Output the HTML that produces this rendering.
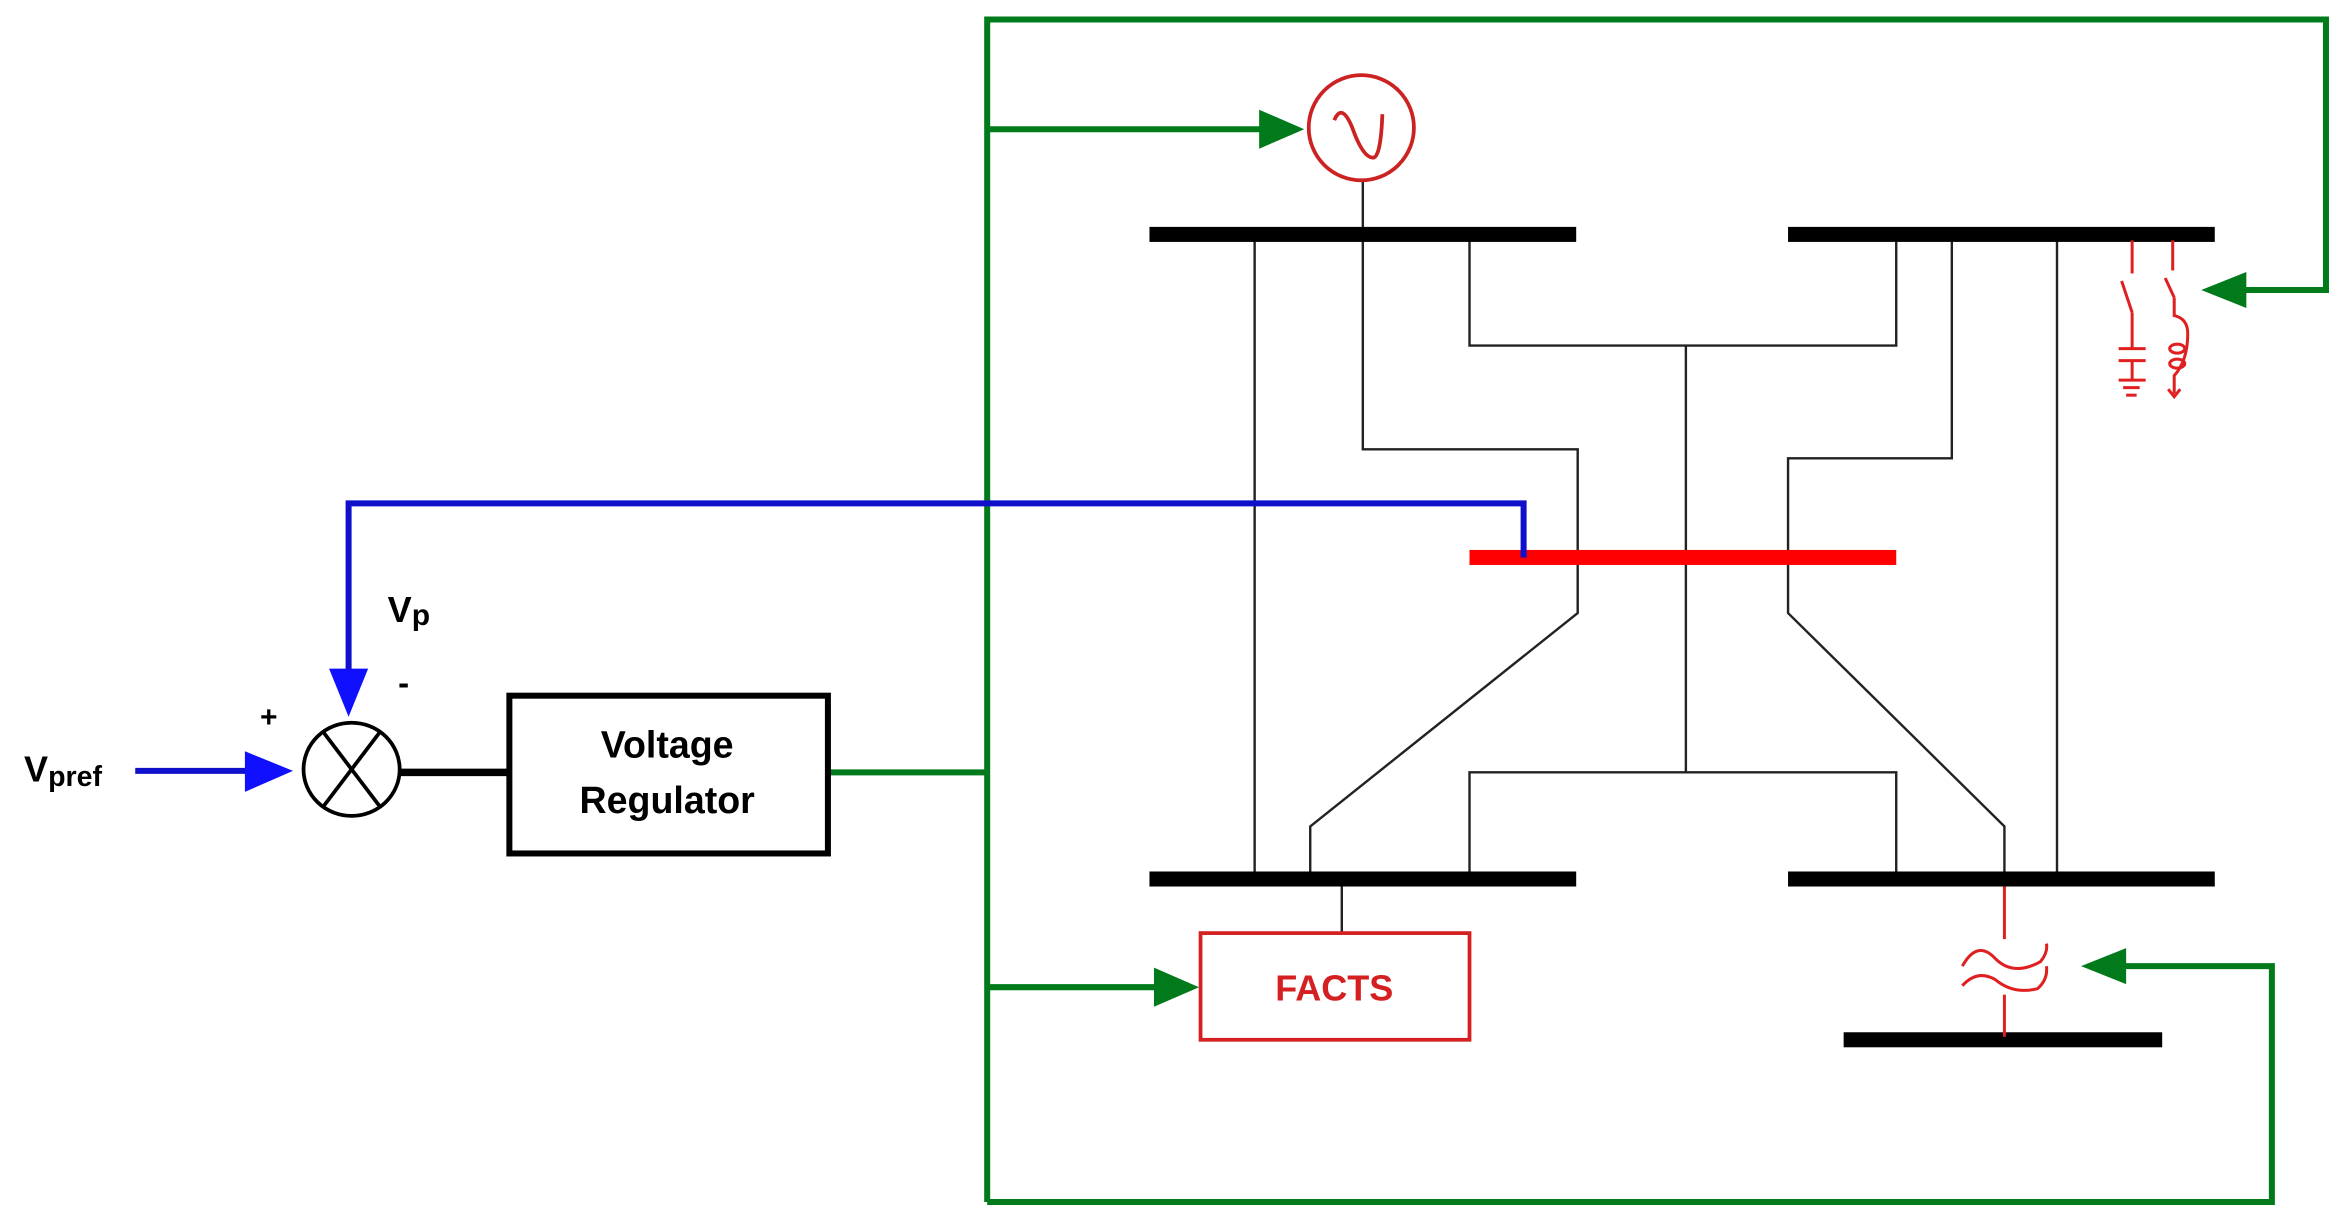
<!DOCTYPE html>
<html><head><meta charset="utf-8"><style>
html,body{margin:0;padding:0;background:#fff;}
svg{display:block;}
text{font-family:"Liberation Sans",sans-serif;font-weight:bold;}
</style></head><body>
<svg width="2344" height="1227" viewBox="0 0 1560 816.6" xmlns="http://www.w3.org/2000/svg">
<rect width="1560" height="817" fill="#fff"/>
<g stroke="#007a1a" stroke-width="4" fill="none">
<polyline points="657,800 657,13 1548,13 1548,193 1480,193"/>
<polyline points="657,800 1512,800 1512,643 1400,643"/>
<line x1="657" y1="86" x2="845" y2="86"/>
<line x1="552" y1="514" x2="657" y2="514"/>
<line x1="657" y1="657" x2="775" y2="657"/>
</g>
<g fill="#007a1a">
<polygon points="868,86 838,73 838,99"/>
<polygon points="1465,193 1495,181 1495,205"/>
<polygon points="1385,643 1415,631 1415,655"/>
<polygon points="798,657 768,644 768,670"/>
</g>
<g stroke="#222" stroke-width="1.6" fill="none">
<line x1="835" y1="156" x2="835" y2="585"/>
<polyline points="907,120 907,299 1050,299 1050,408 872,550 872,585"/>
<polyline points="978,156 978,230 1262,230 1262,156"/>
<line x1="1122" y1="230" x2="1122" y2="514"/>
<polyline points="978,585 978,514 1262,514 1262,585"/>
<polyline points="1299,156 1299,305 1190,305 1190,408 1334,550 1334,585"/>
<line x1="1369" y1="156" x2="1369" y2="585"/>
<line x1="893" y1="585" x2="893" y2="621"/>
</g>
<g fill="#000">
<rect x="765" y="151" width="284" height="10"/>
<rect x="1190" y="151" width="284" height="10"/>
<rect x="765" y="580" width="284" height="10"/>
<rect x="1190" y="580" width="284" height="10"/>
<rect x="1227" y="687" width="212" height="10"/>
</g>
<rect x="978" y="366" width="284" height="10" fill="#ff0000"/>
<circle cx="906" cy="85" r="35" fill="#fff" stroke="#cc2222" stroke-width="2.5"/>
<path d="M888,80 Q893,68 900,85 Q907,105 914,105 Q919,104 920,76" stroke="#cc2222" stroke-width="2.5" fill="none"/>
<g stroke="#e02020" stroke-width="2" fill="none">
<line x1="1419" y1="160" x2="1419" y2="182"/>
<line x1="1412" y1="187" x2="1419" y2="208"/>
<line x1="1419" y1="208" x2="1419" y2="232"/>
<line x1="1410" y1="232" x2="1428" y2="232"/>
<line x1="1410" y1="240" x2="1428" y2="240"/>
<line x1="1419" y1="240" x2="1419" y2="253"/>
<line x1="1410" y1="253" x2="1428" y2="253"/>
<line x1="1413" y1="258" x2="1424" y2="258"/>
<line x1="1415" y1="263" x2="1422" y2="263"/>
<line x1="1446" y1="160" x2="1446" y2="180"/>
<line x1="1441" y1="185" x2="1447" y2="198"/>
<path d="M1447,198 L1447,210 Q1456,212 1456,222 Q1456,240 1447,250 L1447,262"/>
<ellipse cx="1449" cy="232" rx="5" ry="3"/>
<ellipse cx="1449" cy="242" rx="5" ry="3"/>
<polyline points="1443,259 1447,264 1451,259"/>
</g>
<g stroke="#e02020" stroke-width="2" fill="none">
<line x1="1334" y1="590" x2="1334" y2="625"/>
<line x1="1334" y1="662" x2="1334" y2="690"/>
<path d="M1306,643 Q1316,625 1328,638 Q1340,650 1358,640 Q1363,634 1362,628"/>
<path d="M1306,656 Q1316,645 1328,652 Q1340,662 1356,658 Q1363,652 1362,643"/>
</g>
<rect x="799" y="621" width="179" height="71" fill="#fff" stroke="#d42020" stroke-width="2.5"/>
<text x="888" y="666" font-size="24" fill="#d42020" text-anchor="middle">FACTS</text>
<polyline points="1014,371 1014,335 232,335 232,450" stroke="#1010cc" stroke-width="4" fill="none"/>
<polygon points="232,477 219,445 245,445" fill="#1010ff"/>
<line x1="90" y1="513" x2="170" y2="513" stroke="#1010cc" stroke-width="4"/>
<polygon points="195,513 163,500 163,527" fill="#1010ff"/>
<ellipse cx="234" cy="512" rx="32" ry="31" fill="#fff" stroke="#000" stroke-width="2.5"/>
<line x1="215" y1="487" x2="253" y2="537" stroke="#000" stroke-width="2.5"/>
<line x1="253" y1="487" x2="215" y2="537" stroke="#000" stroke-width="2.5"/>
<line x1="266" y1="514" x2="338" y2="514" stroke="#000" stroke-width="5"/>
<rect x="339" y="463" width="212" height="105" fill="#fff" stroke="#000" stroke-width="4"/>
<text x="444" y="504" font-size="25" fill="#000" text-anchor="middle">Voltage</text>
<text x="444" y="541" font-size="25" fill="#000" text-anchor="middle">Regulator</text>
<text x="258" y="414" font-size="24" fill="#000">V<tspan font-size="20" dy="2">p</tspan></text>
<text x="265" y="462" font-size="22" fill="#000">-</text>
<text x="173" y="484" font-size="20" fill="#000">+</text>
<text x="16" y="520" font-size="24" fill="#000">V<tspan font-size="19" dy="3">pref</tspan></text>
</svg>
</body></html>
